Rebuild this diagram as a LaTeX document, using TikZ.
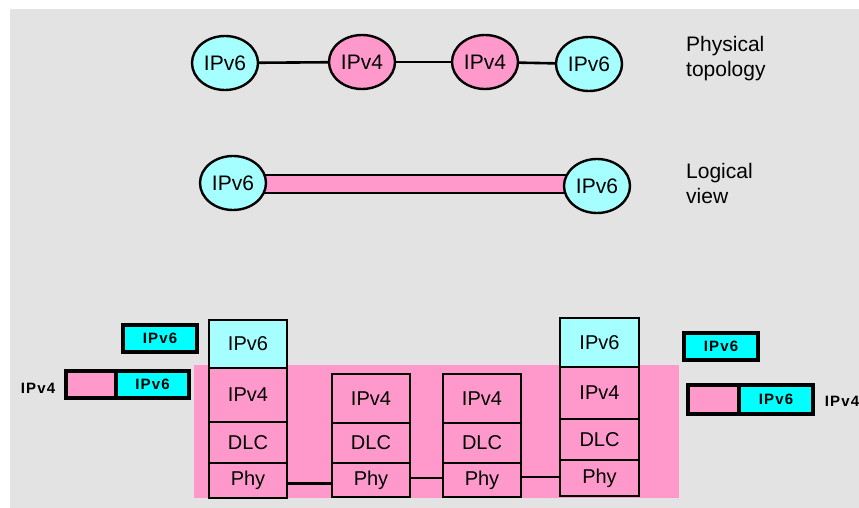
\documentclass[tikz,border=0pt]{standalone}
\usepackage{fontspec}
\setmainfont{Liberation Sans}
\usetikzlibrary{shapes.geometric}
\definecolor{bggrey}{HTML}{E3E3E3}
\definecolor{lcyan}{HTML}{A6FFFF}
\definecolor{bcyan}{HTML}{00FFFF}
\definecolor{pinkish}{HTML}{FF99CC}
\newfontfamily\pktfont[LetterSpace=8]{Liberation Sans}
\tikzset{
  host/.style={ellipse, draw, line width=2.4pt, inner sep=0pt,
    minimum width=66, minimum height=54, font=\fontsize{21}{23}\selectfont},
  v6/.style={host, fill=lcyan},
  v4/.style={host, fill=pinkish},
  layer/.style={rectangle, draw, line width=2.8pt, inner sep=0pt,
    minimum width=78, font=\fontsize{20}{22}\selectfont},
  pkt/.style={rectangle, draw, line width=3.2pt, inner sep=0pt,
    minimum height=27, font=\pktfont\bfseries\fontsize{15}{18}\selectfont},
  caption/.style={anchor=west, align=left, inner sep=0pt,
    font=\fontsize{21}{25}\selectfont},
  link/.style={line width=2.6pt},
}
\begin{document}
\begin{tikzpicture}[x=1pt,y=-1pt]
\useasboundingbox (0,0) rectangle (859,508);
\fill[bggrey] (10,9) rectangle (859,508);

% physical topology
\node[v6] (a) at (225,63) {IPv6};
\node[v4] (b) at (362,62) {IPv4};
\node[v4] (c) at (485,62) {IPv4};
\node[v6] (d) at (589,64) {IPv6};
\draw[link] (a) -- (b);
\draw[link] (b) -- (c);
\draw[link] (c) -- (d);
\node[caption] (pt) at (686,59) {Physical\\topology};

% logical view: tunnel between the two IPv6 hosts
\filldraw[fill=pinkish, line width=2.4pt] (255,175) rectangle (575,193);
\node[v6] (e) at (233,183) {IPv6};
\node[v6] (f) at (597,186) {IPv6};
\node[caption] (lv) at (686,183) {Logical\\view};

% protocol stacks
\fill[pinkish] (194,365) rectangle (679,498);

\node[layer, fill=lcyan, minimum height=48] (s1v6) at (248,344) {IPv6};
\node[layer, fill=pinkish, minimum height=54] (s1v4) at (248,395) {IPv4};
\node[layer, fill=pinkish, minimum height=41] (s1dl) at (248,442.5) {DLC};
\node[layer, fill=pinkish, minimum height=35] (s1ph) at (248,480.5) {Phy};

\node[layer, fill=pinkish, minimum height=49] (s2v4) at (371,398.5) {IPv4};
\node[layer, fill=pinkish, minimum height=40] (s2dl) at (371,443) {DLC};
\node[layer, fill=pinkish, minimum height=34] (s2ph) at (371,480) {Phy};

\node[layer, fill=pinkish, minimum height=49] (s3v4) at (482,398.5) {IPv4};
\node[layer, fill=pinkish, minimum height=40] (s3dl) at (482,443) {DLC};
\node[layer, fill=pinkish, minimum height=34] (s3ph) at (482,480) {Phy};

\node[layer, fill=lcyan, minimum width=79, minimum height=49] (s4v6) at (599.5,342.5) {IPv6};
\node[layer, fill=pinkish, minimum width=79, minimum height=52] (s4v4) at (599.5,393) {IPv4};
\node[layer, fill=pinkish, minimum width=79, minimum height=41] (s4dl) at (599.5,439.5) {DLC};
\node[layer, fill=pinkish, minimum width=79, minimum height=36] (s4ph) at (599.5,478) {Phy};

\draw[link] ([yshift=-3pt]s1ph.east) -- ([yshift=-3pt]s1ph.east -| s2ph.west);
\draw[link] ([yshift=2pt]s2ph.east) -- ([yshift=2pt]s2ph.east -| s3ph.west);
\draw[link] ([yshift=3pt]s3ph.east) -- ++(4,0) -- ([yshift=3pt]s3ph.east -| s4ph.west);

% packets, left side
\node[pkt, fill=bcyan, minimum width=74] (l6) at (160,338.5) {IPv6};
\node[pkt, fill=pinkish, minimum width=50] (l4h) at (91,384.5) {};
\node[pkt, fill=bcyan, minimum width=73] (l4p) at (152.5,384.5) {IPv6};
\node[font=\pktfont\bfseries\fontsize{15}{18}\selectfont] (l4t) at (38,388) {IPv4};

% packets, right side
\node[pkt, fill=bcyan, minimum width=74] (r6) at (721,346.5) {IPv6};
\node[pkt, fill=pinkish, minimum width=51, minimum height=29] (r4h) at (713.5,399.5) {};
\node[pkt, fill=bcyan, minimum width=74, minimum height=29] (r4p) at (776,399.5) {IPv6};
\node[font=\pktfont\bfseries\fontsize{15}{18}\selectfont] (r4t) at (842,401) {IPv4};
\end{tikzpicture}
\end{document}
